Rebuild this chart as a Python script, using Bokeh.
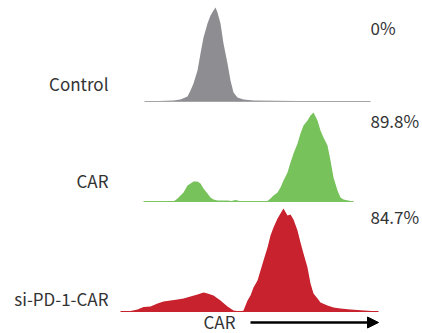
from bokeh.plotting import figure
from bokeh.models import Range1d, Label, Arrow, NormalHead
from bokeh.embed import file_html
from bokeh.resources import INLINE

# ---- data ----
samples = ["Control", "CAR", "si-PD-1-CAR"]
percent_labels = ["0%", "89.8%", "84.7%"]
axis_label = "CAR"

# fluorescence channel (a.u.) and event counts (a.u.)
control_ch = [24, 53, 60, 67, 70, 73, 77, 80, 83, 87, 90, 93, 95, 97, 100, 103,
              107, 110, 113, 117, 123, 133, 220, 250]
control_counts = [0, 1, 2, 5, 11, 18, 31, 48, 64, 78, 86, 91, 94, 89, 78, 58,
                  38, 21, 9, 4, 2, 1, 0, 0]

car_ch = [23, 53, 57, 60, 63, 67, 70, 73, 77, 80, 83, 87, 90, 93, 97, 103, 107,
          111, 115, 119, 130, 140, 147, 150, 153, 157, 160, 163, 167, 170, 173,
          177, 180, 183, 187, 190, 193, 197, 200, 203, 207, 210, 213, 217, 220,
          223, 230, 233]
car_counts = [0, 0, 3, 6, 9, 16, 18, 20, 20, 18, 13, 8, 4, 2, 1, 1, 1, 0.5, 1.5,
              0.5, 0, 0, 0.5, 3, 6, 9, 14, 21, 29, 39, 48, 58, 68, 76, 81, 86,
              89, 81, 71, 64, 56, 41, 24, 11, 4, 2, 0.5, 0]

sipd1_ch = [0, 10, 17, 23, 30, 37, 43, 50, 57, 63, 70, 77, 83, 87, 93, 100, 107,
            113, 120, 123, 127, 130, 133, 137, 140, 143, 147, 150, 153, 157, 160,
            163, 167, 170, 173, 177, 180, 183, 187, 190, 193, 197, 200, 207, 213,
            220, 230, 258]
sipd1_counts = [0, 0.5, 2, 4.5, 5, 8, 10, 11, 12, 13, 15, 17, 19, 18, 16, 11, 5,
                1, 0, 1, 11, 16, 24, 31, 41, 51, 64, 76, 84, 93, 98, 103, 96, 97,
                92, 81, 69, 58, 44, 28, 18, 13, 9, 6, 4, 3, 2, 0]

# ---- layout / style ----
W, H = 422, 333
FONT = "Noto Sans CJK SC"
TXT = "#333333"

p = figure(width=W, height=H, output_backend="svg", toolbar_location=None,
           x_range=Range1d(-120, W - 120), y_range=Range1d(0, H),
           min_border=0)
p.axis.visible = False
p.grid.visible = False
p.outline_line_color = None
p.background_fill_color = "white"

panels = [
    (control_ch, control_counts, 232, "#8d8d92", "#a5a5a8", 250, 306),
    (car_ch, car_counts, 132, "#78c25c", "#7cc462", 153, 213),
    (sipd1_ch, sipd1_counts, 22, "#c8222f", "#c8222f", 35, 117),
]

for i, (ch, cnt, base, fill, line, lab_y, pct_y) in enumerate(panels):
    top = [base + c for c in cnt]
    p.varea(x=ch, y1=[base] * len(ch), y2=top, fill_color=fill, fill_alpha=1.0)
    p.line(x=[min(ch), max(ch)], y=[base, base], line_color=line, line_width=1.2)
    p.add_layout(Label(x=-12, y=lab_y, text=samples[i], text_align="right",
                       text_baseline="middle", text_font=FONT,
                       text_font_size="17px", text_color=TXT))
    p.add_layout(Label(x=250, y=pct_y, text=percent_labels[i], text_align="left",
                       text_baseline="middle", text_font=FONT,
                       text_font_size="17px", text_color=TXT))

p.add_layout(Arrow(end=NormalHead(size=11, fill_color="black", line_color="black"),
                   x_start=130, y_start=11, x_end=258, y_end=11,
                   line_color="black", line_width=2.5))
p.add_layout(Label(x=83, y=12, text=axis_label, text_align="left",
                   text_baseline="middle", text_font=FONT,
                   text_font_size="17px", text_color=TXT))

open("out.html", "w").write(file_html(p, INLINE))
